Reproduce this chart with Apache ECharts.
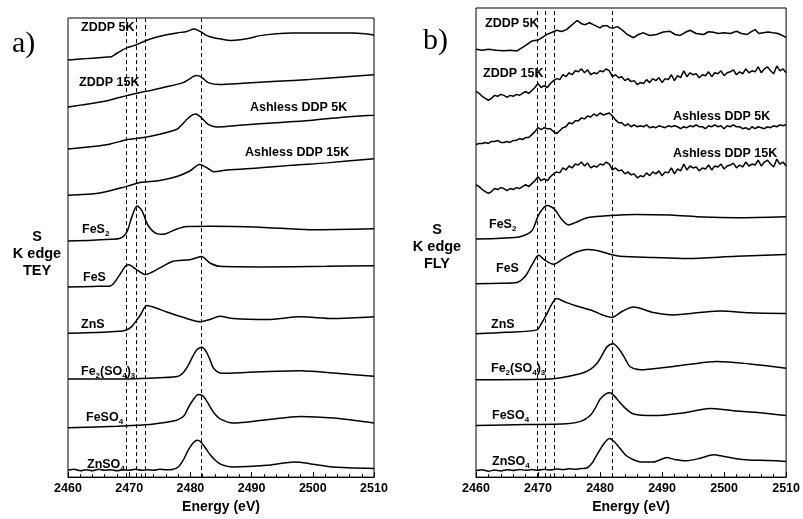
<!DOCTYPE html>
<html><head><meta charset="utf-8">
<script src="https://cdn.jsdelivr.net/npm/echarts@6/dist/echarts.min.js"></script>
<style>html,body{margin:0;padding:0;background:#fff}#c{width:803px;height:519px}</style>
</head><body><div id="c"></div>
<script>
// ---------- Data (energy in eV, intensity in arbitrary stacked units) ----------
const xTicks = [2460, 2470, 2480, 2490, 2500, 2510];
const refLinesA = [2469.5, 2471.1, 2472.7, 2481.7];
const refLinesB = [2469.9, 2471.2, 2472.6, 2481.9];

// Panel a (TEY)
const a_ZDDP5K = [[2460,426],[2462,427],[2464,428],[2466,429],[2467.1,429.5],[2468,433],[2468.8,436],[2469.6,438.5],[2470.9,441],[2472,444],[2472.9,446.3],[2475,450.3],[2477.8,453.7],[2479.4,455.3],[2480.6,457.7],[2481.6,455.3],[2482.7,451],[2484,448.5],[2484.8,447.7],[2486.7,446],[2489.2,447.7],[2491.4,451],[2494.1,453],[2496.8,453.7],[2502.3,453.7],[2506.6,453.7],[2510,451.7]];
const a_ZDDP15K = [[2460,378],[2462,380],[2464.1,382],[2466.9,385.3],[2469.6,389.7],[2472.9,394.3],[2476.1,398.7],[2478.8,403],[2479.8,406.5],[2480.5,409.3],[2481,410.3],[2481.8,408.7],[2482.9,403],[2484.8,401],[2488.6,402.3],[2494.1,404.3],[2499.5,406.3],[2505,408.7],[2510,411]];
const a_Ashless5K = [[2460,335.3],[2464.1,337.7],[2466.9,340.3],[2469.6,344.7],[2471.8,346.3],[2475,350.3],[2477.8,355.3],[2478.6,360],[2479.4,365.3],[2480.2,369.5],[2480.9,371],[2481.8,367],[2482.9,360.3],[2484.3,357.7],[2488.6,359.7],[2494.1,362],[2499.5,364.3],[2505,367.7],[2510,369.7]];
const a_Ashless15K = [[2460,288],[2465.2,290.3],[2469.6,297],[2471.8,301],[2475,303],[2477.8,307],[2479.9,312.7],[2481.5,319.3],[2482.7,316],[2483.8,312],[2486,313.7],[2491.4,316],[2496.8,318.7],[2502.3,321],[2510,325.3]];
const a_FeS2 = [[2460,241.3],[2464,242],[2467,243],[2468.4,243.7],[2469.6,250.3],[2470.4,265.3],[2471.3,277],[2472.1,272],[2473.1,257],[2474.5,248.7],[2475.6,248],[2477.2,252],[2479.4,256],[2483.2,256.3],[2491.4,255.3],[2499.5,252.7],[2510,253.7]];
const a_FeS = [[2460,194.3],[2464,194.8],[2466.9,195.3],[2468.3,205.3],[2469.3,215],[2469.9,217],[2471.2,212],[2472.7,207],[2473.6,209],[2475,213.7],[2477.2,220.5],[2479.9,222],[2481.8,225.3],[2483.2,218.7],[2484.8,215.3],[2491.4,214.7],[2502.3,215.3],[2510,216]];
const a_ZnS = [[2460,147],[2466.4,148.3],[2469.3,149.7],[2470.4,153.7],[2471.8,165.3],[2472.9,175.3],[2473.9,173.7],[2476.1,168.7],[2477.2,166.3],[2479.4,162],[2481.6,158.7],[2483.2,161],[2484.8,164.3],[2487,162],[2492.5,161],[2498,163.7],[2503.4,162],[2510,163.7]];
const a_Fe2SO43 = [[2460,100.3],[2470,100.3],[2475,101.5],[2478,103],[2479,108],[2479.6,113.7],[2480.2,121],[2480.7,127],[2481.2,131],[2481.9,132.7],[2482.6,128],[2483.2,120],[2483.7,112],[2484.3,108],[2485.1,106],[2489.5,107],[2496,108.5],[2498,108.7],[2503.4,106.3],[2510,103]];
const a_FeSO4 = [[2460,50.3],[2468,52],[2473.4,53.7],[2477,57],[2478,58.7],[2479,63],[2479.6,70.3],[2480.4,78.5],[2481.3,84.3],[2481.9,83.5],[2482.4,80.3],[2483.2,72],[2484.1,63.7],[2485,59],[2486.9,55.3],[2492.5,58.7],[2498,62],[2503.4,60.3],[2510,55.3]];
const a_ZnSO4 = [[2460,7],[2461,8],[2462,6.5],[2463,7.5],[2464,6.5],[2465,8],[2466,7],[2467,7.5],[2468,6.5],[2469,7.5],[2470,7],[2471,8],[2472,7],[2473,7.5],[2474,7],[2475,8],[2476,7.5],[2477,7.7],[2478,10.3],[2478.8,17],[2479.6,27],[2480.4,34.5],[2481.1,37.7],[2481.7,36],[2482.4,30.3],[2483.2,23],[2484.1,17],[2485,13],[2486.9,10.3],[2492.5,12],[2497,15.3],[2499.5,13.7],[2503.4,10.3],[2510,8.7]];

// Panel b (FLY)
const fineEnergy = [2460,2460.5,2461,2461.5,2462,2462.5,2463,2463.5,2464,2464.5,2465,2465.5,2466,2466.5,2467,2467.5,2468,2468.5,2469,2469.5,2470,2470.5,2471,2471.5,2472,2472.5,2473,2473.5,2474,2474.5,2475,2475.5,2476,2476.5,2477,2477.5,2478,2478.5,2479,2479.5,2480,2480.5,2481,2481.5,2482,2482.5,2483,2483.5,2484,2484.5,2485,2485.5,2486,2486.5,2487,2487.5,2488,2488.5,2489,2489.5,2490,2490.5,2491,2491.5,2492,2492.5,2493,2493.5,2494,2494.5,2495,2495.5,2496,2496.5,2497,2497.5,2498,2498.5,2499,2499.5,2500,2500.5,2501,2501.5,2502,2502.5,2503,2503.5,2504,2504.5,2505,2505.5,2506,2506.5,2507,2507.5,2508,2508.5,2509,2509.5,2510];
const b_ZDDP5K = [[2460,436],[2461,435],[2462,436],[2463.3,435],[2464.5,434.5],[2465.5,435],[2466.6,434.3],[2467.9,439.3],[2469,444.3],[2470,445.3],[2470.7,448],[2471.4,451],[2472.2,453],[2473,455.3],[2473.8,454],[2474.6,456],[2475.2,459.3],[2476.3,465.3],[2477,462],[2477.6,461],[2478.3,463],[2478.9,461],[2480,457.7],[2480.5,460],[2481.1,460],[2481.6,458],[2482.1,457.7],[2482.8,459],[2483.5,456],[2484.4,451],[2485.4,447.7],[2486.2,451],[2487,452.7],[2488,450],[2489.1,451],[2490.2,453.5],[2491.3,454.3],[2492.1,451],[2492.9,450],[2493.7,453],[2494.5,455.3],[2495.5,452],[2496.7,451],[2497.5,453.8],[2498.3,453.3],[2499.1,452],[2499.9,452.7],[2501,452],[2502,454.3],[2502.8,452],[2503.7,451],[2504.4,454],[2505,456],[2505.6,452],[2506.3,452.7],[2507.1,453.5],[2507.9,452.7],[2508.7,452],[2509.6,449.3],[2510,447.7]];
const b_ZDDP15K = [393,391,388,386,384,386,389,388,390,389,
  387,389,388,390,389,391,393,391,394,397,
  401,397,399,397,401,404,406,405,410,408,
  412,410,414,413,416,412,415,410,412,411,
  414,413,416,414,408,410,407,408,404,406,
  403,404,400,402,401,405,402,406,404,407,
  402,406,405,410,404,409,407,414,408,412,
  410,411,407,410,409,413,408,412,411,414,
  409,412,413,415,410,413,411,416,412,414,
  413,418,412,416,418,414,411,419,414,416,
  412];
const b_Ashless5K = [339,340,340,341,340,342,342,343,341,341,
  342,341,343,343,345,344,346,346,349,352,
  356,354,356,355,355,352,350,353,356,357,
  361,360,363,363,366,365,368,367,370,368,
  371,369,370,371,368,364,361,361,358,360,
  357,359,357,358,357,359,356,357,356,358,
  357,356,358,357,358,357,355,357,356,358,
  357,359,357,357,355,358,357,359,357,358,
  355,358,357,359,357,357,355,356,354,357,
  355,357,356,355,357,356,358,357,359,358,
  359];
const b_Ashless15K = [298,296,293,291,289,291,294,293,295,294,
  292,294,293,295,294,296,298,296,299,302,
  306,302,304,302,306,309,311,310,315,313,
  317,315,319,318,321,317,320,315,317,316,
  319,318,321,319,313,315,312,313,309,311,
  308,309,305,307,306,310,307,311,309,312,
  307,311,310,315,309,314,312,319,313,317,
  315,316,312,315,314,318,313,317,316,319,
  314,317,318,320,315,318,316,321,317,319,
  318,323,317,321,323,319,316,324,319,321,
  317];
const b_FeS2 = [[2460,242.7],[2464,243.5],[2467.1,245],[2469,251],[2470,266],[2470.7,273],[2471.4,276.7],[2472.1,275.5],[2472.7,272.7],[2473.8,262.7],[2474.9,257],[2476,259.3],[2477.9,264.3],[2480.5,266],[2485.9,267.7],[2491.3,267],[2496.7,265],[2502,264.3],[2510,265.3]];
const b_FeS = [[2460,197],[2464,197.5],[2466.6,198.3],[2467.9,204.3],[2469,216],[2470.1,226],[2471.1,221],[2472.5,217],[2474.1,222.7],[2476.2,229.3],[2477.9,232],[2479.5,231],[2481.6,227],[2483.2,225],[2488.6,223.7],[2494,222.7],[2502,225],[2510,226.7]];
const b_ZnS = [[2460,146],[2465,147.5],[2469.8,150],[2470.5,156],[2471.4,166],[2472.2,176],[2473,182],[2474.5,178],[2476.2,174.3],[2478.9,169.3],[2480.5,165],[2481.9,162.7],[2483.6,169],[2485.4,173.3],[2488.6,167.7],[2491.8,165.3],[2496.1,167.7],[2499.4,169.3],[2504,167.5],[2510,166.7]];
const b_Fe2SO43 = [[2460,99.3],[2471.9,100],[2476.8,105.3],[2478.5,110],[2479.5,116],[2480.4,125],[2481.1,132.7],[2482.1,136],[2483.2,129.3],[2484.1,120],[2484.8,112.7],[2486.5,109.3],[2490.8,112],[2494.5,115],[2498.8,117.7],[2504.2,115.3],[2510,111]];
const b_FeSO4 = [[2460,52.7],[2468,53.5],[2474.6,54.3],[2477,57],[2478.4,62.7],[2479.3,71],[2480,79.3],[2481,85],[2481.6,86],[2482.4,82],[2483.2,76],[2484.3,69],[2485.4,64.3],[2488.6,62.7],[2493.4,65.3],[2497.7,70],[2501.5,67.7],[2505,66],[2510,62.7]];
const b_ZnSO4 = [[2460,6.7],[2461,7.5],[2462,6],[2463,7.2],[2464,6.3],[2465,7.6],[2466,6.8],[2467,7.8],[2468,6.9],[2469,7.7],[2470,7],[2471,8],[2472,7.2],[2473,8.2],[2474,7.6],[2475,8.4],[2476,8],[2477,8.8],[2477.9,9.3],[2478.8,15],[2479.5,22.7],[2480.5,33],[2481.5,39.3],[2482.3,36],[2483.2,29.3],[2484.2,22],[2485.4,17.7],[2486.5,15.5],[2488.6,15.3],[2490.8,20],[2492,18],[2494,16.7],[2496,19],[2498.3,22.7],[2500,21],[2501.5,19.3],[2504,17.5],[2507,17],[2510,16]];

// ---------- Chart ----------
const FONT = '"Liberation Sans", Arial, Helvetica, sans-serif';
const chart = echarts.init(document.getElementById('c'), null, {renderer:'canvas'});

function pairs(vals){ return fineEnergy.map((e,i)=>[e, vals[i]]); }
function line(data, gi, smooth){
  return {type:'line', xAxisIndex:gi, yAxisIndex:gi, data:data, showSymbol:false, symbol:'none',
    smooth:smooth, lineStyle:{color:'#000', width:1.5}, silent:true, animation:false};
}
function refMarks(list){
  return {silent:true, symbol:['none','none'], label:{show:false},
    lineStyle:{color:'#000', type:[4,3], width:1}, animation:false,
    data:list.map(e=>({xAxis:e}))};
}
function xAx(gi){
  return {type:'value', gridIndex:gi, min:xTicks[0], max:xTicks[xTicks.length-1], interval:10,
    name:'Energy (eV)', nameLocation:'middle', nameGap:19,
    nameTextStyle:{fontFamily:FONT, fontWeight:'bold', fontSize:14, color:'#000'},
    axisLine:{show:true, lineStyle:{color:'#000', width:1}},
    axisTick:{show:true, inside:true, length:5, lineStyle:{color:'#000'}},
    minorTick:{show:true, splitNumber:5, length:3, lineStyle:{color:'#000'}},
    axisLabel:{fontFamily:FONT, fontWeight:'bold', fontSize:12.5, color:'#000', margin:5,
      formatter:function(v){ return String(v); }},
    splitLine:{show:false}};
}
function yAx(gi, max){
  return {type:'value', gridIndex:gi, min:0, max:max, show:true,
    axisLine:{show:false}, axisTick:{show:false}, axisLabel:{show:false}, splitLine:{show:false}};
}
const richSub = {s:{fontSize:8, fontWeight:'bold', fontFamily:FONT, fill:'#000', lineHeight:6, verticalAlign:'bottom'}};
function label(x, y, text, size, align){
  return {type:'text', x:x, y:y, silent:true, style:{text:text, fill:'#000', fontFamily:FONT, fontWeight:'bold',
    fontSize:size||12.5, lineHeight:16, align:align||'left', verticalAlign:'middle', rich:richSub}};
}
function serif(x, y, text){
  return {type:'text', x:x, y:y, silent:true, style:{text:text, fill:'#000', fontFamily:'"Liberation Serif", "Times New Roman", serif',
    fontSize:30, align:'left', verticalAlign:'middle'}};
}

const option = {
  backgroundColor:'#fff',
  animation:false,
  grid:[
    {left:68, top:18, width:306, height:469, show:true, borderColor:'#000', borderWidth:1, backgroundColor:'transparent'},
    {left:476, top:8, width:311, height:478, show:true, borderColor:'#000', borderWidth:1, backgroundColor:'transparent'}
  ],
  xAxis:[xAx(0), xAx(1)],
  yAxis:[yAx(0,469), yAx(1,478)],
  series:[
    Object.assign(line(a_ZDDP5K,0,0.3), {markLine:refMarks(refLinesA)}),
    line(a_ZDDP15K,0,0.3), line(a_Ashless5K,0,0.3), line(a_Ashless15K,0,0.3),
    line(a_FeS2,0,0.3), line(a_FeS,0,0.3), line(a_ZnS,0,0.3),
    line(a_Fe2SO43,0,0.3), line(a_FeSO4,0,0.3), line(a_ZnSO4,0,0.2),
    Object.assign(line(b_ZDDP5K,1,false), {markLine:refMarks(refLinesB)}),
    line(pairs(b_ZDDP15K),1,false), line(pairs(b_Ashless5K),1,false), line(pairs(b_Ashless15K),1,false),
    line(b_FeS2,1,0.3), line(b_FeS,1,0.3), line(b_ZnS,1,0.3),
    line(b_Fe2SO43,1,0.3), line(b_FeSO4,1,0.3), line(b_ZnSO4,1,0.2)
  ],
  graphic:[
    serif(12, 44, 'a)'), serif(423, 41, 'b)'),
    label(37, 237, 'S', 14.5, 'center'), label(37, 254, 'K edge', 14.5, 'center'), label(37, 271, 'TEY', 14.5, 'center'),
    label(437, 230, 'S', 14.5, 'center'), label(437, 247, 'K edge', 14.5, 'center'), label(437, 264, 'FLY', 14.5, 'center'),
    label(81, 28, 'ZDDP 5K'), label(79, 83, 'ZDDP 15K'),
    label(250, 108, 'Ashless DDP 5K'), label(245, 153, 'Ashless DDP 15K'),
    label(82, 230, 'FeS{s|2}'), label(83, 278, 'FeS'), label(81, 325, 'ZnS'),
    label(81, 372, 'Fe{s|2}(SO{s|4}){s|3}'), label(86, 418, 'FeSO{s|4}'), label(87, 465, 'ZnSO{s|4}'),
    label(485, 24, 'ZDDP 5K'), label(483, 74, 'ZDDP 15K'),
    label(673, 117, 'Ashless DDP 5K'), label(673, 154, 'Ashless DDP 15K'),
    label(489, 225, 'FeS{s|2}'), label(496, 269, 'FeS'), label(491, 325, 'ZnS'),
    label(491, 369, 'Fe{s|2}(SO{s|4}){s|3}'), label(492, 416, 'FeSO{s|4}'), label(492, 462, 'ZnSO{s|4}')
  ]
};
chart.setOption(option);
</script>
</body></html>
